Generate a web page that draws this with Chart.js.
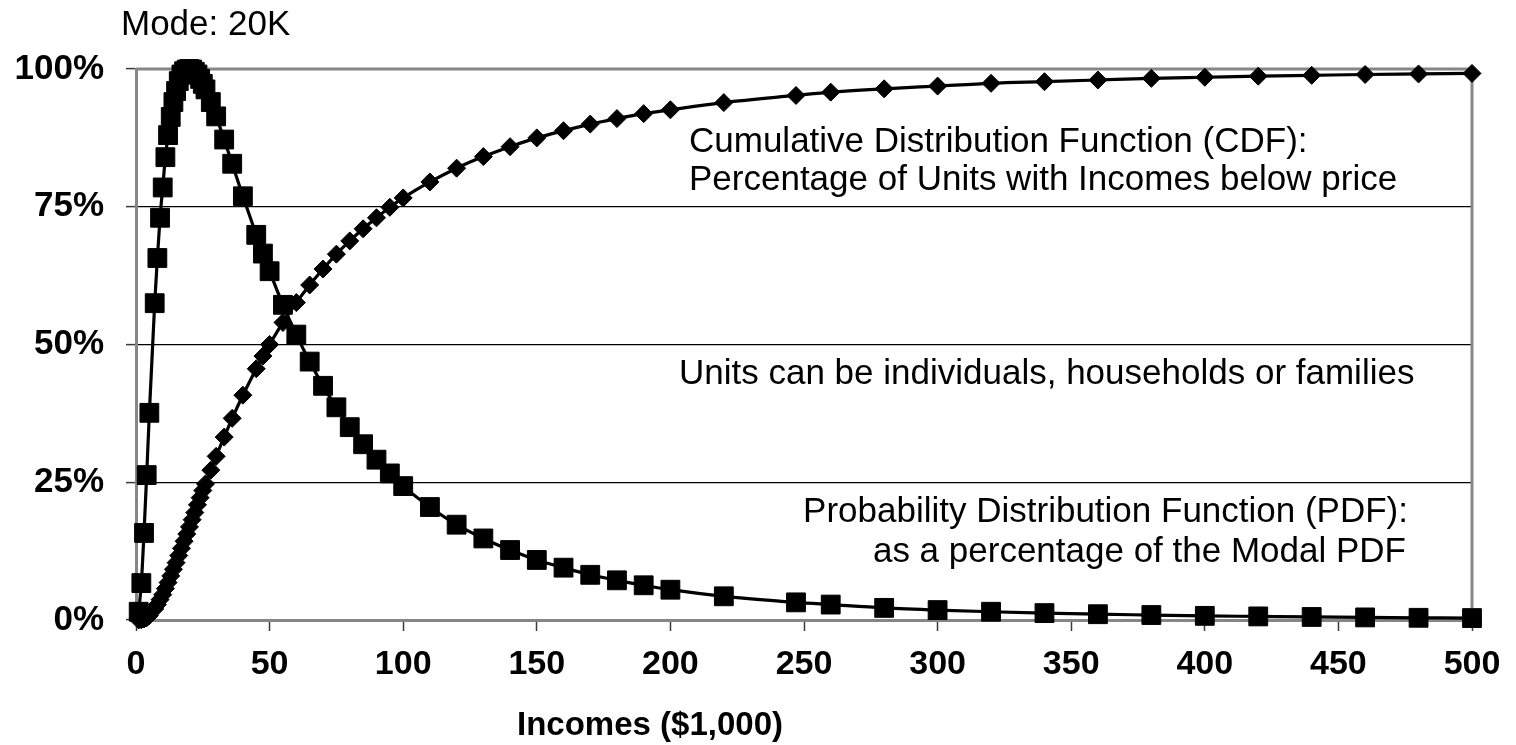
<!DOCTYPE html>
<html><head><meta charset="utf-8">
<script src="https://cdn.jsdelivr.net/npm/chart.js@4.4.1/dist/chart.umd.min.js"></script>
<style>html,body{margin:0;padding:0;background:#fff;}#wrap{width:1516px;height:745px;}</style>
</head><body><div id="wrap"><canvas id="c" width="1516" height="745"></canvas></div>
<script>
// ---- data ----
const incomes = [1,2,3,4,5,7,8,9,10,11,12,13,14,15,16,17,18,19,20,21,22,23,24,25,26,28,30,33,36,40,45,47.5,50,55,60,65,70,75,80,85,90,95,100,110,120,130,140,150,160,170,180,190,200,220,247,260,280,300,320,340,360,380,400,420,440,460,480,500];
const pdfPct = [1.5,6.7,15.8,26.3,37.6,57.5,65.7,73.0,78.5,84.0,88.0,91.3,94.0,96.0,97.8,99.0,99.6,99.9,100,99.9,99.5,99.0,98.2,97.3,96.3,94.0,91.4,87.2,82.8,76.9,69.9,66.5,63.3,57.2,51.8,46.9,42.5,38.6,35.0,31.9,29.1,26.6,24.3,20.5,17.3,14.8,12.7,10.9,9.5,8.2,7.2,6.3,5.5,4.3,3.2,2.8,2.2,1.8,1.5,1.25,1.05,0.9,0.75,0.65,0.55,0.47,0.4,0.35];
const cdfPct = [0.0,0.04,0.2,0.4,0.8,2.0,2.8,3.7,4.6,5.7,6.8,8.0,9.2,10.4,11.7,13.0,14.3,15.6,16.9,18.2,19.5,20.9,22.2,23.5,24.7,27.2,29.7,33.2,36.6,40.8,45.6,47.9,50.0,54.0,57.6,60.8,63.7,66.4,68.8,71.0,73.0,74.9,76.6,79.5,82.0,84.1,85.9,87.5,88.8,90.0,91.0,91.9,92.6,93.9,95.2,95.8,96.4,96.9,97.4,97.7,98.0,98.3,98.5,98.7,98.85,99.0,99.1,99.2];
const xTickValues = [0,50,100,150,200,250,300,350,400,450,500];
const yTickValues = [0,25,50,75,100];
const yTickLabels = ['0%','25%','50%','75%','100%'];
const modeLabel = 'Mode: 20K';
const xAxisTitle = 'Incomes ($1,000)';
const cdfNote = ['Cumulative Distribution Function (CDF):', 'Percentage of Units with Incomes below price'];
const unitsNote = 'Units can be individuals, households or families';
const pdfNote = ['Probability Distribution Function (PDF):', 'as a percentage of the Modal PDF'];

const FONT = '"Liberation Sans", Arial, Helvetica, sans-serif';
const GRAY = '#868686';

const toPoints = (xs, ys) => xs.map((x, i) => ({x: x, y: ys[i]}));

const framePlugin = {
  id: 'frame',
  beforeDatasetsDraw(chart) {
    const {ctx, chartArea: a} = chart;
    ctx.save();
    ctx.strokeStyle = GRAY;
    ctx.lineWidth = 3;
    ctx.beginPath();
    ctx.moveTo(a.left, a.top);
    ctx.lineTo(a.right, a.top);
    ctx.lineTo(a.right, a.bottom);
    ctx.stroke();
    ctx.restore();
  }
};

const textPlugin = {
  id: 'texts',
  afterDraw(chart) {
    const ctx = chart.ctx;
    ctx.save();
    ctx.fillStyle = '#000';
    ctx.textBaseline = 'alphabetic';
    ctx.font = '35px ' + FONT;
    ctx.textAlign = 'left';
    ctx.fillText(modeLabel, 121, 35);
    ctx.fillText(cdfNote[0], 689, 152);
    ctx.fillText(cdfNote[1], 689, 190);
    ctx.fillText(unitsNote, 679, 384);
    ctx.textAlign = 'right';
    ctx.fillText(pdfNote[0], 1408, 522);
    ctx.fillText(pdfNote[1], 1406, 562);
    ctx.font = 'bold 33px ' + FONT;
    ctx.textAlign = 'center';
    ctx.fillText(xAxisTitle, 650, 735);
    ctx.restore();
  }
};

new Chart(document.getElementById('c'), {
  type: 'scatter',
  data: {
    datasets: [
      {
        label: 'CDF',
        data: toPoints(incomes, cdfPct),
        showLine: true,
        borderColor: '#000',
        backgroundColor: '#000',
        borderWidth: 3.2,
        pointStyle: 'rectRot',
        pointRadius: 9,
        pointBorderWidth: 1,
        cubicInterpolationMode: 'monotone',
        clip: false
      },
      {
        label: 'PDF',
        data: toPoints(incomes, pdfPct),
        showLine: true,
        borderColor: '#000',
        backgroundColor: '#000',
        borderWidth: 3.2,
        pointStyle: 'rect',
        pointRadius: 13.3,
        pointBorderWidth: 1,
        cubicInterpolationMode: 'monotone',
        clip: false
      }
    ]
  },
  options: {
    responsive: false,
    animation: false,
    devicePixelRatio: 1,
    layout: {padding: {top: 69, right: 44, left: 0, bottom: 0}},
    plugins: {legend: {display: false}, tooltip: {enabled: false}},
    scales: {
      x: {
        type: 'linear',
        min: 0, max: 500,
        afterBuildTicks: s => { s.ticks = xTickValues.map(v => ({value: v})); },
        afterFit: s => { s.height = 125; },
        ticks: {
          color: '#000',
          font: {family: FONT, size: 34, weight: 'bold'},
          padding: 13,
          maxRotation: 0,
          autoSkip: false
        },
        grid: {drawOnChartArea: false, drawTicks: true, tickLength: 11, tickColor: '#3a3a3a', tickWidth: 1.5},
        border: {color: GRAY, width: 3}
      },
      y: {
        type: 'linear',
        min: 0, max: 100,
        afterBuildTicks: s => { s.ticks = yTickValues.map(v => ({value: v})); },
        afterFit: s => { s.width = 136; },
        ticks: {
          color: '#000',
          font: {family: FONT, size: 35, weight: 'bold'},
          padding: 22,
          callback: (v) => yTickLabels[yTickValues.indexOf(v)]
        },
        grid: {
          color: c => (c.tick && (c.tick.value === 100 || c.tick.value === 0)) ? 'rgba(0,0,0,0)' : '#000',
          lineWidth: 1.2,
          drawTicks: true,
          tickLength: 10,
          tickColor: '#3a3a3a',
          tickWidth: 1.5
        },
        border: {color: GRAY, width: 3}
      }
    }
  },
  plugins: [framePlugin, textPlugin]
});
</script>
</body></html>
